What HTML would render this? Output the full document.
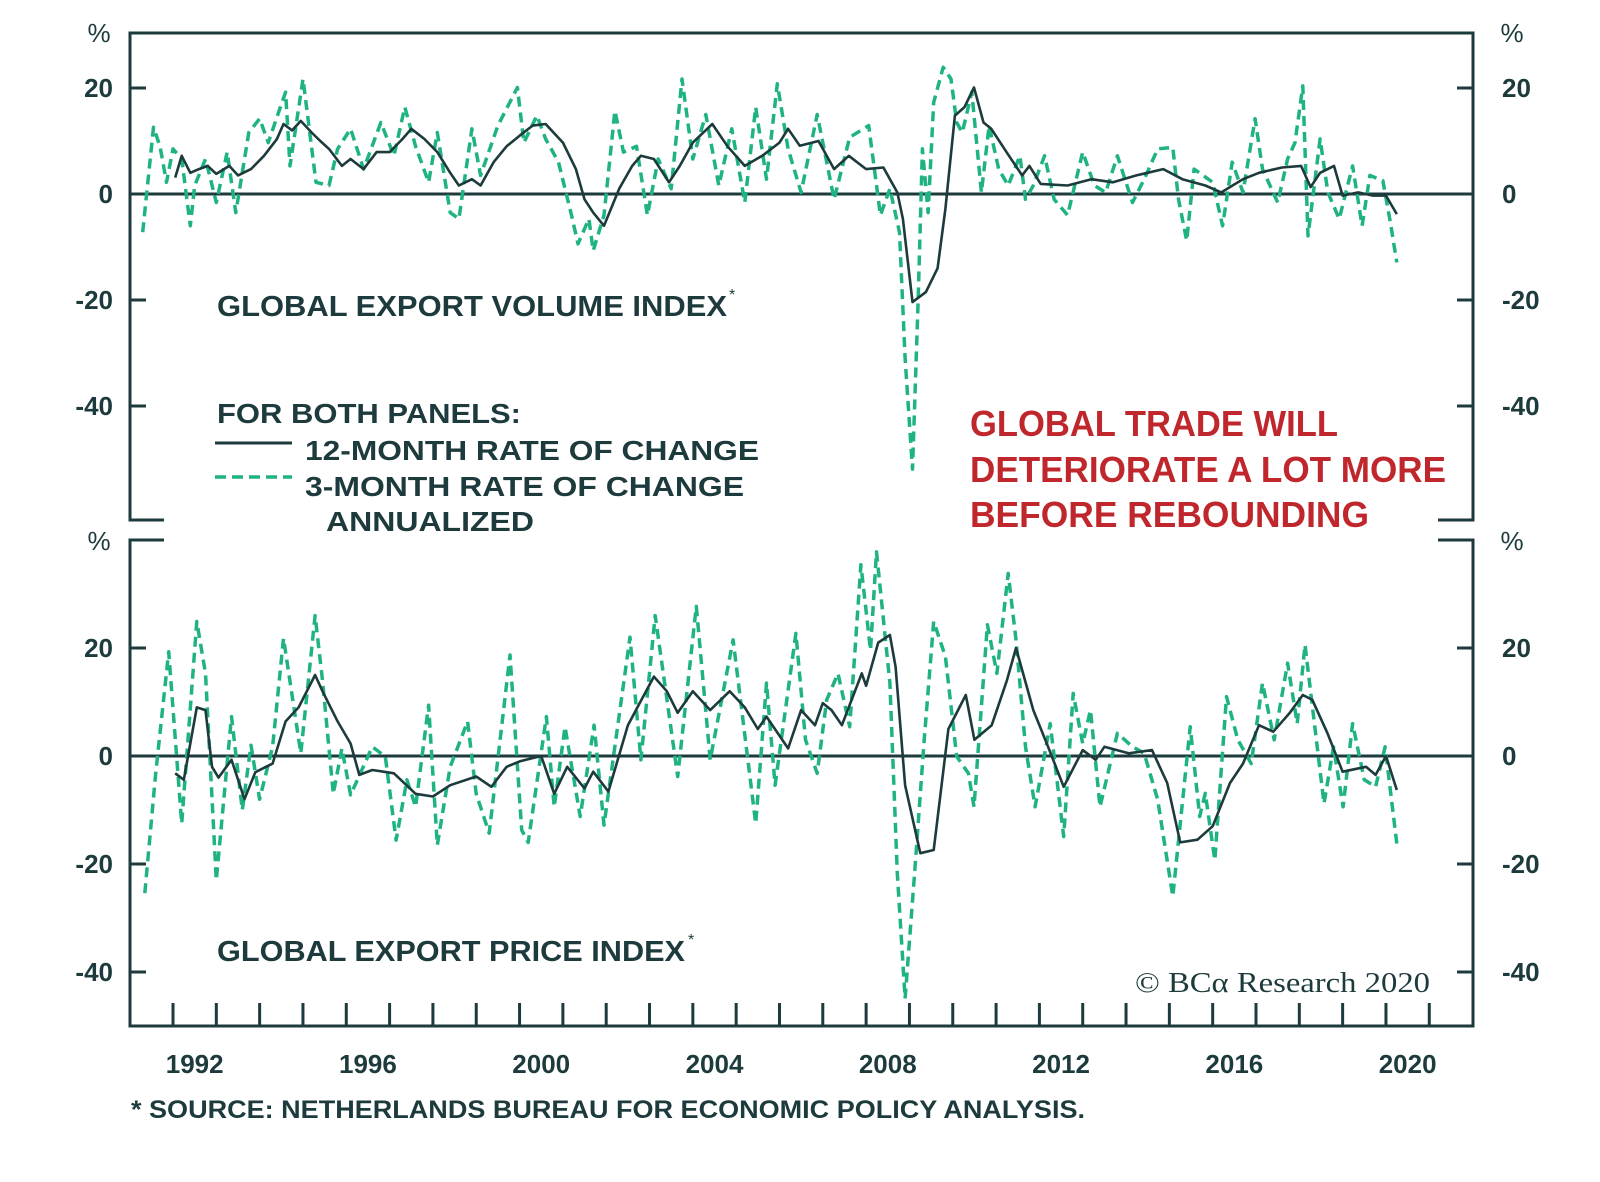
<!DOCTYPE html>
<html><head><meta charset="utf-8"><style>
html,body{margin:0;padding:0;background:#fff;}
svg{display:block;}
text{font-family:"Liberation Sans",sans-serif;fill:#1d3a3c;}
.b{font-weight:bold;}
</style></head><body>
<svg id="chart" width="1600" height="1182" viewBox="0 0 1600 1182" xmlns="http://www.w3.org/2000/svg">
<g id="frame"></g>
<g id="series"></g>
<g id="labels">
  <text class="b" x="217" y="316" font-size="29" textLength="510" lengthAdjust="spacingAndGlyphs">GLOBAL EXPORT VOLUME INDEX</text>
  <text x="729" y="300" font-size="16">*</text>
  <text class="b" x="217" y="423" font-size="28" textLength="304" lengthAdjust="spacingAndGlyphs">FOR BOTH PANELS:</text>
  <line x1="215" y1="443" x2="292" y2="443" stroke="#1d3a3c" stroke-width="3"/>
  <text class="b" x="305" y="460" font-size="28" textLength="454" lengthAdjust="spacingAndGlyphs">12-MONTH RATE OF CHANGE</text>
  <line x1="215" y1="477" x2="292" y2="477" stroke="#1fb383" stroke-width="3.5" stroke-dasharray="11,6"/>
  <text class="b" x="305" y="496" font-size="28" textLength="439" lengthAdjust="spacingAndGlyphs">3-MONTH RATE OF CHANGE</text>
  <text class="b" x="326" y="531" font-size="28" textLength="208" lengthAdjust="spacingAndGlyphs">ANNUALIZED</text>
  <text class="b" x="970" y="436" font-size="36" style="fill:#c0272d" textLength="368" lengthAdjust="spacingAndGlyphs">GLOBAL TRADE WILL</text>
  <text class="b" x="970" y="482" font-size="36" style="fill:#c0272d" textLength="476" lengthAdjust="spacingAndGlyphs">DETERIORATE A LOT MORE</text>
  <text class="b" x="970" y="527" font-size="36" style="fill:#c0272d" textLength="399" lengthAdjust="spacingAndGlyphs">BEFORE REBOUNDING</text>
  <text class="b" x="217" y="961" font-size="29" textLength="468" lengthAdjust="spacingAndGlyphs">GLOBAL EXPORT PRICE INDEX</text>
  <text x="688" y="945" font-size="16">*</text>
  <text x="1135" y="992" font-size="29" style="font-family:'Liberation Serif',serif" textLength="295" lengthAdjust="spacingAndGlyphs">© BCα Research 2020</text>
  <text class="b" x="131" y="1118" font-size="25" textLength="954" lengthAdjust="spacingAndGlyphs">* SOURCE: NETHERLANDS BUREAU FOR ECONOMIC POLICY ANALYSIS.</text>
</g>
</svg>
<script>
// ---- data ----
const topSolidYears=[1992.05,1992.2,1992.4,1992.6,1992.8,1993.0,1993.3,1993.5,1993.8,1994.1,1994.4,1994.55,1994.75,1994.95,1995.2,1995.4,1995.6,1995.9,1996.1,1996.4,1996.7,1997.0,1997.3,1997.5,1997.8,1998.1,1998.4,1998.6,1998.9,1999.1,1999.4,1999.7,2000.0,2000.3,2000.6,2001.0,2001.3,2001.5,2001.7,2001.95,2002.3,2002.6,2002.8,2003.1,2003.45,2003.7,2004.0,2004.45,2004.8,2005.2,2005.6,2006.0,2006.2,2006.47,2006.9,2007.26,2007.6,2008.0,2008.4,2008.72,2008.85,2009.07,2009.38,2009.65,2009.83,2010.05,2010.27,2010.49,2010.71,2010.89,2011.24,2011.6,2011.77,2012.03,2012.65,2013.2,2013.7,2014.24,2014.86,2015.3,2015.83,2016.2,2016.7,2017.07,2017.6,2018.04,2018.26,2018.48,2018.8,2019.0,2019.36,2019.7,2020.0,2020.25];
const topSolidValues=[3.1,7.2,4,4.7,5.3,3.8,5.3,3.5,4.7,7.2,10.4,13.2,12,13.8,11.6,10,8.5,5.3,6.6,4.7,7.9,7.9,10.4,12.3,10.4,7.9,4,1.6,2.8,1.6,6,9,11,12.9,13.2,9.7,4.7,-1,-3.5,-6,1,5.3,7.2,6.6,2.2,5.3,9.7,13.2,9,5.3,7.2,9.7,12.3,9.1,10,4.7,7.2,4.7,5,0.3,-4.7,-20.4,-18.5,-14,-2.8,14.8,16.4,20.1,13.5,12.3,7.9,3.5,5.3,1.9,1.6,2.8,2.2,3.5,4.7,2.8,1.6,0.3,2.8,4,5,5.3,1.3,4,5.3,-0.3,0.3,-0.3,-0.3,-3.8];
const topDashYears=[1991.3,1991.55,1991.7,1991.85,1992.0,1992.2,1992.4,1992.5,1992.75,1993.0,1993.25,1993.45,1993.75,1994.0,1994.2,1994.45,1994.6,1994.7,1995.0,1995.3,1995.6,1995.8,1996.1,1996.4,1996.8,1997.1,1997.35,1997.6,1997.9,1998.1,1998.4,1998.6,1998.9,1999.1,1999.5,1999.95,2000.1,2000.4,2000.6,2000.9,2001.2,2001.35,2001.6,2001.7,2001.95,2002.2,2002.4,2002.7,2002.95,2003.2,2003.5,2003.75,2004.0,2004.3,2004.6,2004.9,2005.2,2005.45,2005.7,2005.95,2006.2,2006.5,2006.87,2007.26,2007.62,2008.06,2008.33,2008.55,2008.77,2008.9,2009.07,2009.2,2009.3,2009.43,2009.56,2009.78,2009.96,2010.09,2010.22,2010.44,2010.66,2010.84,2011.06,2011.28,2011.55,2011.68,2011.86,2012.12,2012.34,2012.65,2013.0,2013.27,2013.53,2013.8,2014.15,2014.42,2014.73,2015.08,2015.21,2015.4,2015.57,2016.0,2016.23,2016.45,2016.7,2016.98,2017.15,2017.5,2017.73,2017.9,2018.08,2018.2,2018.48,2018.66,2018.92,2019.23,2019.45,2019.63,2019.93,2020.1,2020.25];
const topDashValues=[-7.2,12.6,9,2.2,8.5,6.6,-6,1.6,6.6,-1.6,7.9,-3.5,11.6,14.2,9.7,15.7,19.2,5.3,21.7,2.2,1.6,8.5,12.3,4.7,13.5,7.2,16.4,9,2.2,11.6,-3.5,-4.7,12.3,3.5,12.9,20.1,9.7,14.8,10.4,6,-4,-9.4,-4.7,-10.7,-4,15.7,7.9,9,-4,6.6,1,21.7,6.6,15,1.6,12.3,-1.6,16.4,2.8,20.8,8.5,0.3,15,-1,10.7,12.9,-4,1,-7.2,-31,-51.9,-20.4,8.5,-3.5,17.3,23.9,21.7,13.5,11.6,19.2,0.3,12.9,4.7,1.6,7.2,-1,1.6,7.2,-1,-4,7.9,1.6,0.3,7.2,-1.6,2.8,8.5,8.8,-1,-8.8,4.7,2.2,-6,6,0.3,14.2,4.7,-1.6,6.6,9.7,20.4,-7.9,10.4,0.3,-4.7,5.3,-6,3.5,2.5,-5.3,-12.9];
const botSolidYears=[1992.05,1992.25,1992.55,1992.75,1992.9,1993.05,1993.35,1993.65,1993.9,1994.3,1994.6,1994.9,1995.28,1995.45,1995.8,1996.1,1996.3,1996.6,1997.1,1997.6,1998.0,1998.4,1999.0,1999.35,1999.7,2000.0,2000.5,2000.8,2001.1,2001.5,2001.7,2002.05,2002.5,2003.1,2003.4,2003.65,2004.0,2004.4,2004.85,2005.2,2005.5,2005.7,2006.2,2006.5,2006.82,2007.0,2007.2,2007.44,2007.9,2008.0,2008.28,2008.55,2008.68,2008.9,2009.25,2009.56,2009.9,2010.3,2010.5,2010.9,2011.25,2011.46,2011.86,2012.2,2012.56,2013.0,2013.3,2013.5,2014.06,2014.6,2014.95,2015.25,2015.65,2016.0,2016.4,2016.7,2017.07,2017.4,2017.77,2018.08,2018.3,2018.65,2019.0,2019.54,2019.76,2020.0,2020.25];
const botSolidValues=[-3.2,-4.4,9,8.5,-2,-4,-0.7,-8,-3,-1.4,6.4,9,15,12,6.4,2.3,-3.5,-2.6,-3.2,-7,-7.5,-5.4,-3.8,-5.7,-2,-1,0,-7,-2,-6,-2.9,-6.6,5.7,14.7,12,8,12,8.5,12,9,5,7.3,1.4,8.5,5.7,9.8,8.5,5.7,15.3,13,21,22.4,16.5,-5.4,-18,-17.4,5,11.3,3,5.7,14,20,8.5,1.7,-5.7,1.1,-0.7,1.7,0.5,1.1,-5,-16,-15.5,-13,-5,-1.4,5.7,4.5,7.9,11.3,10.4,4.2,-2.9,-2,-3.5,0,-6.3];
const botDashYears=[1991.35,1991.6,1991.9,1992.2,1992.55,1992.75,1993.0,1993.35,1993.6,1993.8,1994.0,1994.3,1994.55,1994.95,1995.28,1995.45,1995.7,1995.9,1996.1,1996.6,1996.9,1997.15,1997.4,1997.6,1997.9,1998.1,1998.4,1998.8,1999.0,1999.3,1999.78,2000.05,2000.2,2000.62,2000.8,2001.05,2001.4,2001.72,2001.95,2002.55,2002.8,2003.13,2003.65,2004.08,2004.4,2004.93,2005.45,2005.7,2005.9,2006.38,2006.6,2006.87,2007.09,2007.35,2007.62,2007.88,2008.1,2008.24,2008.55,2008.72,2008.9,2009.12,2009.34,2009.56,2009.83,2010.09,2010.36,2010.49,2010.8,2011.02,2011.28,2011.46,2011.68,2011.9,2012.25,2012.56,2012.78,2013.0,2013.18,2013.4,2013.8,2014.15,2014.42,2014.73,2015.08,2015.48,2015.7,2015.83,2016.05,2016.32,2016.58,2016.89,2017.15,2017.42,2017.73,2017.95,2018.13,2018.57,2018.79,2019.01,2019.23,2019.5,2019.76,2019.98,2020.25];
const botDashValues=[-25.4,-3.2,19.3,-12.5,24.9,15.3,-23,7.3,-10,2,-8,1.7,21.8,0.5,26,14,-7,1.4,-7.2,1.7,-0.1,-15.6,-4.4,-9.4,9.4,-16.5,-2,6.4,-7,-14.3,18.7,-13.7,-16,7.3,-9.4,5.4,-11.2,5.7,-12.8,22,-0.7,26,-3.8,27.7,-0.7,21.5,-12.5,13.5,-5.4,22.7,3,-3.2,10.4,15.3,5.4,35.4,19.6,37.8,13.5,-21.7,-44.9,-21.7,3,24.9,18.4,-0.1,-3.2,-9.4,24.3,15.3,33.8,21.5,1.7,-9.4,6,-14.9,11.6,2.3,8.5,-9.4,4.2,1.7,0.5,-8.1,-26,5.4,-11.2,-6.9,-19.3,11,3,-1.4,13.5,3,17.2,6,20.6,-8.8,1.7,-9.4,6,-4.4,-5.7,1.7,-16.2];
const yTickValues=[20,0,-20,-40];
const yTickLabels=["20","0","-20","-40"];
const yearLabels=[1992,1996,2000,2004,2008,2012,2016,2020];

// ---- scales ----
const X0=130,X1=1473;
const x=y=>173+(y-1992)*43.32;
const yTop=v=>194-v*5.3;
const yBot=v=>756-v*5.4;
const NS="http://www.w3.org/2000/svg";
const C="#1d3a3c";
function mk(tag,attrs,parent){const e=document.createElementNS(NS,tag);for(const k in attrs)e.setAttribute(k,attrs[k]);parent.appendChild(e);return e;}
const frame=document.getElementById('frame');
const series=document.getElementById('series');

let p=mk('path',{d:`M164 520 H${X0} V33 H${X1} V520 H1438`,fill:'none',stroke:C,'stroke-width':3},frame);


p=mk('path',{d:`M164 540 H${X0} V1026 H${X1} V540 H1438`,fill:'none',stroke:C,'stroke-width':3},frame);



function panel(sc,name){
  yTickValues.forEach((v,i)=>{
    const yy=sc(v);
    if(v===0){
      const z=mk('line',{x1:X0,x2:X1,y1:yy,y2:yy,stroke:C,'stroke-width':3},frame);
      
      
    }else{
      const a=mk('line',{x1:X0,x2:X0+16,y1:yy,y2:yy,stroke:C,'stroke-width':3},frame);
      
      
      const b=mk('line',{x1:X1-16,x2:X1,y1:yy,y2:yy,stroke:C,'stroke-width':3},frame);
      
      
    }
    const l=mk('text',{x:113,y:yy+9,'font-size':26,'text-anchor':'end','class':'b'},frame);
    l.textContent=yTickLabels[i];
    
    
    const r=mk('text',{x:1502,y:yy+9,'font-size':26,'class':'b'},frame);
    r.textContent=yTickLabels[i];
    
    
  });
}
panel(yTop,'top');
panel(yBot,'bottom');
[[99,42],[1512,42],[99,550],[1512,550]].forEach(([px,py])=>{
  const t=mk('text',{x:px,y:py,'font-size':26,'text-anchor':'middle'},frame);
  t.textContent='%';
  
  
});
for(let yr=1992;yr<=2021;yr++){
  const t=mk('line',{x1:x(yr),x2:x(yr),y1:1003,y2:1026,stroke:C,'stroke-width':3},frame);
  
  
}
yearLabels.forEach(yr=>{
  const t=mk('text',{x:x(yr+0.5),y:1073,'font-size':26,'text-anchor':'middle','class':'b'},frame);
  t.textContent=String(yr);
  
  
});

function line(ys,vs,sc,dashed,name){
  const d=ys.map((yr,i)=>(i?'L':'M')+x(yr).toFixed(1)+' '+sc(vs[i]).toFixed(1)).join(' ');
  const el=mk('path',{d:d,fill:'none',stroke:dashed?'#1fb383':C,'stroke-width':dashed?3.5:2.6,'stroke-linejoin':'round'},series);
  if(dashed)el.setAttribute('stroke-dasharray','10,6');
  
  
}
line(topDashYears,topDashValues,yTop,true,'volume-3-month-line');
line(topSolidYears,topSolidValues,yTop,false,'volume-12-month-line');
line(botDashYears,botDashValues,yBot,true,'price-3-month-line');
line(botSolidYears,botSolidValues,yBot,false,'price-12-month-line');
</script>
</body></html>
